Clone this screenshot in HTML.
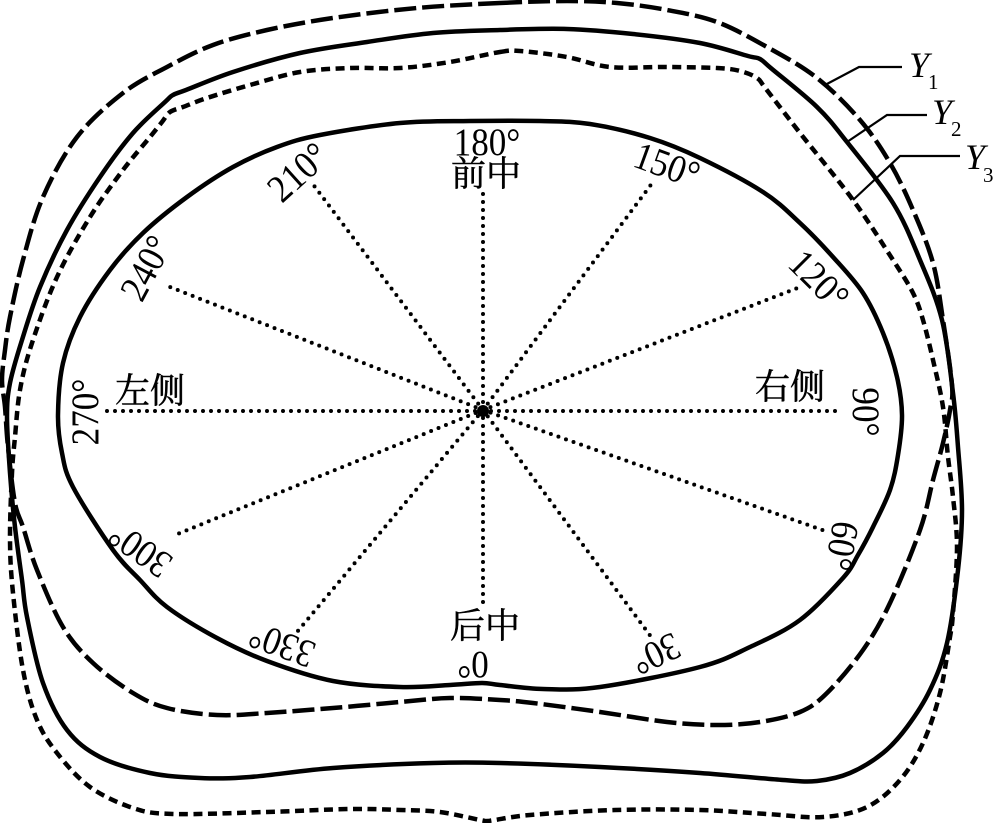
<!DOCTYPE html>
<html><head><meta charset="utf-8">
<style>
html,body{margin:0;padding:0;background:#fff;width:1000px;height:823px;overflow:hidden}
svg{display:block}
.n{font-family:"Liberation Serif",serif;font-size:39px;text-anchor:middle;fill:#000}
.c{font-family:"Liberation Serif","Noto Serif CJK SC",serif;font-size:35px;text-anchor:middle;fill:#000;stroke:#000;stroke-width:.5}
.y{font-family:"Liberation Serif",serif;font-style:italic;font-size:36px;fill:#000}
.s{font-family:"Liberation Serif",serif;font-size:21px;fill:#000}
.d{stroke:#000;stroke-width:4;stroke-linecap:round;stroke-dasharray:0 8;fill:none}
</style></head><body>
<svg width="1000" height="823" viewBox="0 0 1000 823" xmlns="http://www.w3.org/2000/svg">
<rect width="1000" height="823" fill="#fff"/>
<path id="inner" fill="none" stroke="#000" stroke-width="4.5"/>
<path id="y2" fill="none" stroke="#000" stroke-width="4.5"/>
<path id="y1" fill="none" stroke="#000" stroke-width="4.5" stroke-dasharray="22 6"/>
<path id="y3" fill="none" stroke="#000" stroke-width="4.5" stroke-dasharray="9 5.5"/>
<g class="d">
<line x1="483" y1="410" x2="483" y2="192"/>
<line x1="483" y1="410" x2="483" y2="604"/>
<line x1="483" y1="411" x2="103" y2="411"/>
<line x1="483" y1="411" x2="843" y2="411"/>
<line x1="483" y1="410" x2="312" y2="183"/>
<line x1="483" y1="410" x2="170" y2="287"/>
<line x1="483" y1="410" x2="653" y2="182"/>
<line x1="483" y1="410" x2="800" y2="287"/>
<line x1="483" y1="410" x2="828" y2="532"/>
<line x1="483" y1="410" x2="652" y2="638"/>
<line x1="483" y1="410" x2="175" y2="535"/>
<line x1="483" y1="410" x2="297" y2="632"/>
</g>
<circle cx="483" cy="411" r="6" fill="#000"/>
<g fill="none" stroke="#000" stroke-width="2.2">
<polyline points="825,85 859,67 902,67"/>
<polyline points="847,142 887,115 927,115"/>
<polyline points="853,200 900,156 960,156"/>
</g>
<text class="n" transform="translate(487,142) scale(.9,1)" y="13">180°</text>
<text class="c" x="486" y="186">前中</text>
<text class="c" x="150" y="403">左侧</text>
<text class="c" x="790" y="399">右侧</text>
<text class="c" x="485" y="638">后中</text>
<text class="n" transform="translate(298,172) rotate(-42) scale(.9,1)" y="13">210°</text>
<text class="n" transform="translate(146,268) rotate(-62) scale(.9,1)" y="13">240°</text>
<text class="n" transform="translate(85,412) rotate(-90) scale(.9,1)" y="13">270°</text>
<text class="n" transform="translate(667,165) rotate(20) scale(.9,1)" y="13">150°</text>
<text class="n" transform="translate(819,280) rotate(45) scale(.9,1)" y="13">120°</text>
<text class="n" transform="translate(866,412) rotate(90) scale(.9,1)" y="13">90°</text>
<text class="n" transform="translate(842,546) rotate(100) scale(.9,1)" y="13">60°</text>
<text class="n" transform="translate(656,654) rotate(155) scale(.9,1)" y="13">30°</text>
<text class="n" transform="translate(473,665) rotate(180) scale(.9,1)" y="13">0°</text>
<text class="n" transform="translate(282,645) rotate(200) scale(.9,1)" y="13">330°</text>
<text class="n" transform="translate(140,550) rotate(215) scale(.9,1)" y="13">300°</text>
<text class="y" x="909" y="77">Y</text><text class="s" x="928" y="89">1</text>
<text class="y" x="932" y="124">Y</text><text class="s" x="951" y="136">2</text>
<text class="y" x="965" y="169">Y</text><text class="s" x="983" y="182">3</text>
</svg>
<script>
var C={
inner:[470,121,540,121,590,124,650,138,700,158,763,192,800,223,833,257,863,293,883,333,897,377,902,415,898,455,890,490,873,527,858,555,843,578,800,620,750,647,700,667,600,687,543,689,500,685,482,683,450,685,400,687,333,681,267,661,217,638,167,607,140,580,113,550,73,487,62,453,58,415,63,363,80,317,110,270,143,233,187,197,233,167,277,147,320,135,400,123],
y2:[500,30,567,29,633,34,700,43,748,56,760,59,772,69,817,107,847,142,893,203,920,260,942,320,953,393,958,447,962,510,958,570,947,643,930,690,907,727,883,753,850,773,817,781,783,780,700,773,600,767,500,763,433,763,333,768,250,777,200,778,150,773,100,757,67,730,43,683,27,617,22,580,15,527,10,473,7,417,10,383,22,340,40,287,67,230,100,177,133,133,165,102,173,95,186,90,233,72,300,53,367,42,433,33],
y1:[500,3,567,1,617,3,667,10,717,22,767,47,817,78,860,120,890,163,913,210,933,263,943,320,952,385,950,410,943,443,933,480,920,530,890,603,863,650,827,693,800,712,760,722,717,725,667,722,600,712,533,703,500,700,450,698,400,702,333,708,267,713,217,715,167,708,133,693,93,663,63,627,37,570,23,527,15,503,8,447,5,407,2,380,5,350,10,317,23,260,43,197,77,137,123,93,167,67,213,45,267,30,333,18,417,8],
y3:[500,52,520,51,567,57,610,67,667,67,717,68,740,71,757,78,766,89,800,133,853,200,893,260,913,293,923,320,933,360,943,407,948,457,953,497,957,547,953,613,950,637,940,693,923,743,900,780,867,807,823,817,767,814,700,810,615,810,530,815,495,820,487,821,480,820,440,812,400,810,350,809,267,812,173,814,133,808,90,787,57,753,37,720,23,670,13,593,10,540,12,473,15,437,20,390,32,343,57,277,90,217,123,170,150,137,162,122,170,112,183,107,207,98,250,85,300,72,350,68,400,68,450,62]
};
for(var k in C){var a=C[k],p=[];for(var i=0;i<a.length;i+=2)p.push([a[i],a[i+1]]);
var n=p.length,d="M"+p[0][0]+" "+p[0][1];
for(var i=0;i<n;i++){var A=p[(i-1+n)%n],B=p[i],E=p[(i+1)%n],F=p[(i+2)%n];
d+="C"+(B[0]+(E[0]-A[0])/6).toFixed(1)+" "+(B[1]+(E[1]-A[1])/6).toFixed(1)+" "+(E[0]-(F[0]-B[0])/6).toFixed(1)+" "+(E[1]-(F[1]-B[1])/6).toFixed(1)+" "+E[0]+" "+E[1];}
document.getElementById(k).setAttribute("d",d+"Z");}
</script>
</body></html>
